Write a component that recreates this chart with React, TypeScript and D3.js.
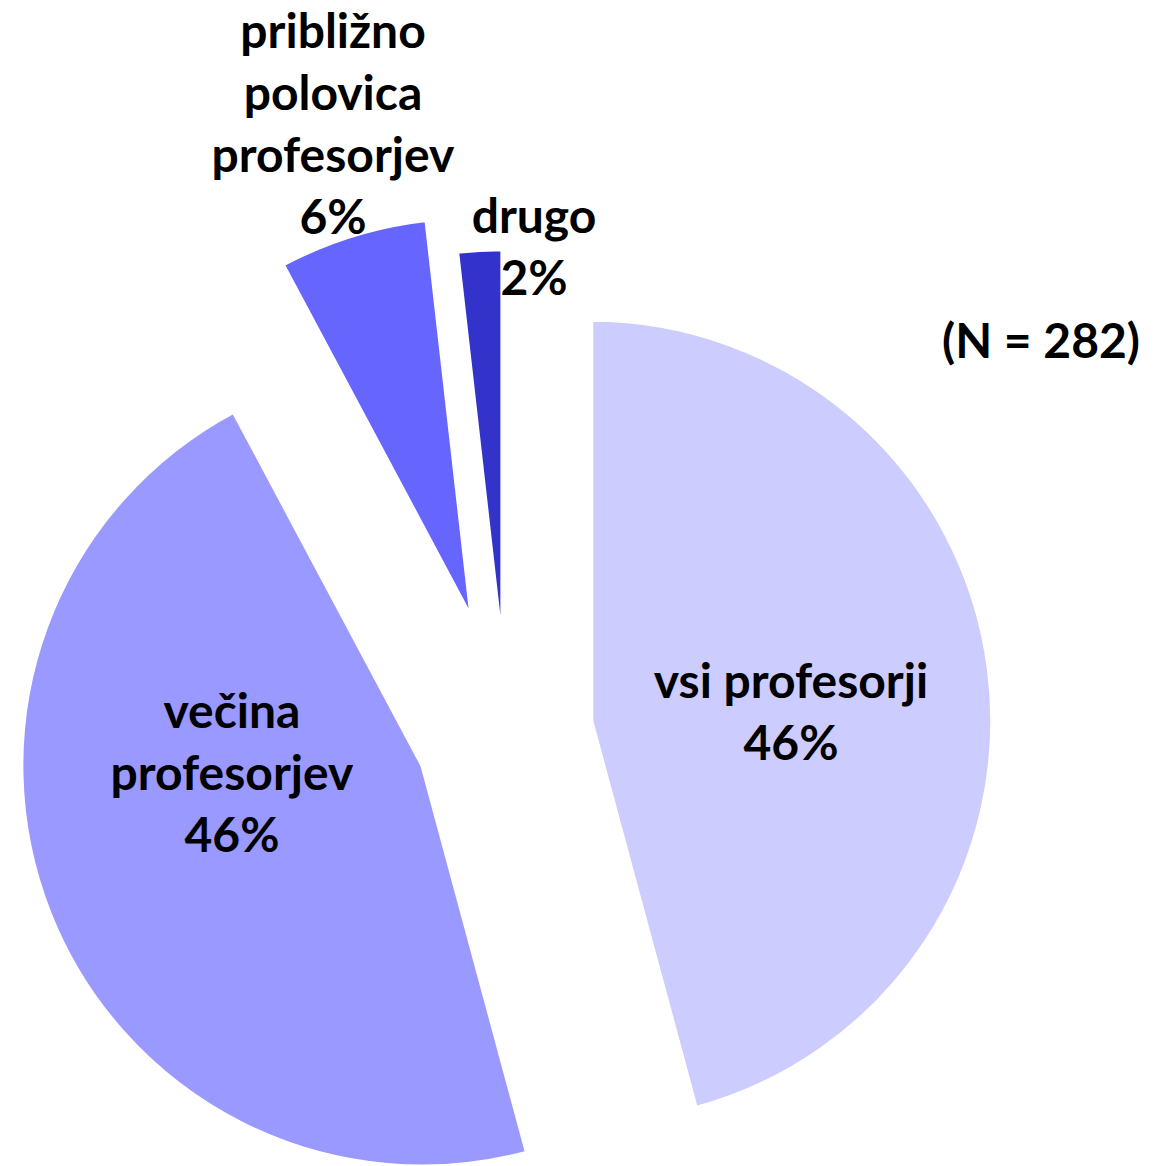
import React, { useEffect } from "react";
import * as d3 from "d3";

const categories = ["vsi profesorji", "večina profesorjev", "približno polovica profesorjev", "drugo"];
const values = [45.8, 46.4, 6.0, 1.8];
const colors = ["#CCCCFF", "#9999FF", "#6666FF", "#3333CC"];
const labelLines = [
  ["vsi profesorji"],
  ["večina", "profesorjev"],
  ["približno", "polovica", "profesorjev"],
  ["drugo"],
];
const note = "(N = 282)";

// layout
const W = 1173;
const H = 1166;
const CX = 507;
const CY = 732;
const R = 401;
const explode = [85, 91, 119, 82];
const labelAnchor: [number, number][] = [
  [791, 698],
  [232, 728],
  [333, 48],
  [534, 233],
];
const lineH = 62;
const FONT = "Lato, 'Open Sans', sans-serif";
const FS = 48;

export default function App() {
  useEffect(() => {
    document.body.style.margin = "0";
  }, []);

  const pie = d3.pie<number>().sort(null).value((d) => d).startAngle(0).endAngle(2 * Math.PI);
  const arcs = pie(values);
  const arc = d3.arc<d3.PieArcDatum<number>>().innerRadius(0).outerRadius(R);

  return (
    <svg width={W} height={H} style={{ display: "block", background: "#fff" }}>
      {arcs.map((a, i) => {
        const mid = (a.startAngle + a.endAngle) / 2;
        const dx = Math.sin(mid) * explode[i];
        const dy = -Math.cos(mid) * explode[i];
        return (
          <path
            key={i}
            d={arc(a) || ""}
            transform={`translate(${CX + dx},${CY + dy})`}
            fill={colors[i]}
            stroke="#fff"
            strokeWidth={4}
            strokeLinejoin="round"
          />
        );
      })}
      {arcs.map((a, i) => {
        const [x, y] = labelAnchor[i];
        const lines = [...labelLines[i], `${Math.round(values[i])}%`];
        return (
          <text
            key={`l${i}`}
            x={x}
            y={y}
            textAnchor="middle"
            fontFamily={FONT}
            fontWeight={700}
            fontSize={FS}
            fill="#000"
          >
            {lines.map((t, j) => (
              <tspan key={j} x={x} dy={j === 0 ? 0 : lineH}>
                {t}
              </tspan>
            ))}
          </text>
        );
      })}
      <text x={1041} y={358} textAnchor="middle" fontFamily={FONT} fontWeight={700} fontSize={FS} fill="#000">
        {note}
      </text>
    </svg>
  );
}
